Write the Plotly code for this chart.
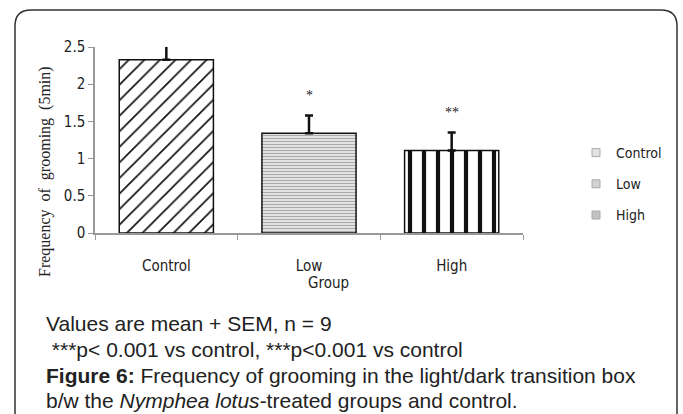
import plotly.graph_objects as go

groups = ["Control", "Low", "High"]
means = [2.33, 1.34, 1.11]
sem = [0.23, 0.24, 0.24]
stars = ["", "*", "**"]

W, H = 683, 414
L, R, T, B = 95, 523, 47, 233  # plot area in pixels


def px(x):
    return (x - L) / (R - L)


def py(y):
    return (B - y) / (B - T)


narrow = "Liberation Sans Narrow, Arial Narrow, DejaVu Sans Condensed, sans-serif"

patterns = [
    dict(shape="/", fgcolor="#111", bgcolor="white", size=11, solidity=0.15, fgopacity=1),
    dict(shape="-", fgcolor="#aaa", bgcolor="#eee", size=3, solidity=0.45, fgopacity=1),
    dict(shape="|", fgcolor="#111", bgcolor="white", size=14, solidity=0.3, fgopacity=1),
]

fig = go.Figure()
for g, m, s, p in zip(groups, means, sem, patterns):
    fig.add_trace(go.Bar(
        x=[g], y=[m], width=0.66, showlegend=False,
        marker=dict(color="white", pattern=p, line=dict(color="#111", width=1.5)),
        error_y=dict(type="data", symmetric=False, array=[s], arrayminus=[0],
                     color="#111", thickness=2.5, width=4),
    ))

# legend swatches
for i, g in enumerate(groups):
    fig.add_trace(go.Scatter(
        x=[None], y=[None], mode="markers", name=g, legendgroup=g,
        marker=dict(symbol="square", size=8, color=["#e2e2e2", "#d2d2d2", "#c2c2c2"][i],
                    line=dict(color="#aaa", width=1)),
    ))

for g, m, s, st in zip(groups, means, sem, stars):
    if st:
        fig.add_annotation(x=g, y=m + s + 0.27, text=st, showarrow=False,
                           font=dict(family="Liberation Serif, serif", size=14, color="#222"))

fig.add_annotation(xref="paper", yref="paper", x=px(45), y=py(172), textangle=-90,
                   xanchor="center", yanchor="middle",
                   text="Frequency  of  grooming  (5min)",
                   showarrow=False, font=dict(family="Liberation Serif, Times New Roman, serif",
                                              size=16, color="#222"))
fig.add_annotation(xref="paper", yref="paper", x=px(328), y=py(283), text="Group",
                   xanchor="center", yanchor="middle",
                   showarrow=False, font=dict(family=narrow, size=15, color="#222"))

caption = [
    ("Values are mean + SEM, n = 9", 323),
    (" ***p< 0.001 vs control, ***p<0.001 vs control", 349),
    ("<b>Figure 6:</b> Frequency of grooming in the light/dark transition box", 375),
    ("b/w the <i>Nymphea lotus</i>-treated groups and control.", 400),
]
for txt, yy in caption:
    fig.add_annotation(xref="paper", yref="paper", x=px(44), y=py(yy),
                       xanchor="left", yanchor="middle",
                       text=txt, showarrow=False,
                       font=dict(family="Liberation Sans, Arial, sans-serif", size=21, color="#222"))

# rounded outer frame
x0, x1, y0, y1, r = 15, 677, 10, 425, 16
path = (f"M {px(x0)},{py(y0 + r)} Q {px(x0)},{py(y0)} {px(x0 + r)},{py(y0)} "
        f"L {px(x1 - r)},{py(y0)} Q {px(x1)},{py(y0)} {px(x1)},{py(y0 + r)} "
        f"L {px(x1)},{py(y1)} M {px(x0)},{py(y1)} L {px(x0)},{py(y0 + r)}")
fig.add_shape(type="path", xref="paper", yref="paper", path=path,
              line=dict(color="#333", width=1.5))

fig.update_layout(
    width=W, height=H,
    margin=dict(l=L, r=W - R, t=T, b=H - B, autoexpand=False),
    paper_bgcolor="white", plot_bgcolor="white",
    xaxis=dict(type="category", tickson="boundaries", ticks="outside", ticklen=5,
               tickcolor="#999", showline=True, linecolor="#999", linewidth=1.5,
               showgrid=False, ticklabelstandoff=18,
               tickfont=dict(family=narrow, size=15, color="#222")),
    yaxis=dict(range=[0, 2.5], dtick=0.5, ticks="outside", ticklen=5, tickcolor="#999",
               showline=True, linecolor="#999", linewidth=1.5, showgrid=False,
               zeroline=False, tickfont=dict(family=narrow, size=15, color="#222")),
    legend=dict(x=px(576), y=py(137), xanchor="left", yanchor="top",
                tracegroupgap=10, itemwidth=30,
                font=dict(family=narrow, size=14, color="#222")),
)

fig.write_html("out.html", config={"displayModeBar": False},
               post_script="document.body.style.margin='0';")
